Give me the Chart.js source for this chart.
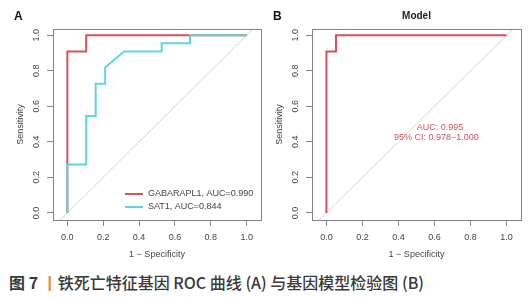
<!DOCTYPE html>
<html>
<head>
<meta charset="utf-8">
<script src="https://cdn.jsdelivr.net/npm/chart.js@4.4.0/dist/chart.umd.min.js"></script>
<style>
  html, body { margin: 0; padding: 0; background: #fff; }
  body { width: 532px; height: 300px; position: relative; overflow: hidden; }
  .panel { position: absolute; top: 0; width: 266px; height: 262px; }
  #panelA { left: 0; }
  #panelB { left: 259px; }
  .caption {
    position: absolute; left: 9px; top: 270px;
    font-family: "Noto Sans CJK SC", sans-serif; font-size: 16px; line-height: 24px;
    font-weight: 500; color: #3a3a3a; white-space: nowrap;
  }
  .caption .b { font-weight: bold; }
  .caption .sep { color: #e0883a; font-weight: bold; }
</style>
</head>
<body>
<div class="panel" id="panelA"><canvas id="chartA"></canvas></div>
<div class="panel" id="panelB"><canvas id="chartB"></canvas></div>
<div class="caption"><span class="b">图 7</span> <span class="sep">丨</span>铁死亡特征基因 ROC 曲线 (A) 与基因模型检验图 (B)</div>

<script>
// ---------------- datos ----------------
const xTicks = [0, 0.2, 0.4, 0.6, 0.8, 1.0];
const yTicks = [0, 0.2, 0.4, 0.6, 0.8, 1.0];

// panel A: GABARAPL1
const gabaFpr = [0, 0, 0.105, 0.105, 1];
const gabaTpr = [0, 0.909, 0.909, 1, 1];
// panel A: SAT1
const sat1Fpr = [0, 0, 0.105, 0.105, 0.158, 0.158, 0.211, 0.211, 0.316, 0.526, 0.526, 0.684, 0.684, 1];
const sat1Tpr = [0, 0.273, 0.273, 0.545, 0.545, 0.727, 0.727, 0.818, 0.909, 0.909, 0.955, 0.955, 1, 1];
// panel B: modelo
const modelFpr = [0, 0, 0.053, 0.053, 1];
const modelTpr = [0, 0.909, 0.909, 1, 1];
// diagonal de referencia
const diagonal = [-0.2, 1.2];

const seriesNames = ["GABARAPL1, AUC=0.990", "SAT1, AUC=0.844"];
const modelTitle = "Model";
const modelAucText = ["AUC: 0.995", "95% CI: 0.978\u22121.000"];

const ROJO = "#d4525a";
const CIAN = "#5cd6dc";
const GRIS = "#858585";
const TEXTO = "#444";
const FAMILIA = "'Liberation Sans', Arial, sans-serif";

const puntos = (xs, ys) => xs.map((x, i) => ({ x: x, y: ys[i] }));

// ---------------- plugins de dibujo (estilo R) ----------------
const marcoR = {
    id: "marcoR",
    afterDraw(chart, args, opts) {
        const { ctx, chartArea: a, scales } = chart;
        ctx.save();
        // caja
        ctx.strokeStyle = GRIS;
        ctx.lineWidth = 1;
        ctx.strokeRect(Math.round(a.left) + 0.5, Math.round(a.top) + 0.5,
            Math.round(a.right - a.left), Math.round(a.bottom - a.top));
        // etiquetas del eje y giradas
        ctx.fillStyle = TEXTO;
        ctx.font = "9px " + FAMILIA;
        ctx.textAlign = "center";
        ctx.textBaseline = "middle";
        yTicks.forEach(v => {
            const py = scales.y.getPixelForValue(v);
            ctx.save();
            ctx.translate(a.left - 16, py);
            ctx.rotate(-Math.PI / 2);
            ctx.fillText(v.toFixed(1), 0, 0);
            ctx.restore();
        });
        // letra del panel
        ctx.fillStyle = "#111";
        ctx.font = "bold 12px " + FAMILIA;
        ctx.textAlign = "left";
        ctx.fillText(opts.letra, 14, 17);
        // titulo
        if (opts.titulo) {
            ctx.font = "bold 10px " + FAMILIA;
            ctx.textAlign = "center";
            ctx.fillStyle = "#222";
            ctx.fillText(opts.titulo, (a.left + a.right) / 2, 16);
        }
        // leyenda
        if (opts.leyenda) {
            ctx.font = "9px " + FAMILIA;
            ctx.textAlign = "left";
            opts.leyenda.forEach((item, i) => {
                const ly = a.bottom - 26 + i * 13;
                ctx.strokeStyle = item.color;
                ctx.lineWidth = 2;
                ctx.beginPath();
                ctx.moveTo(a.right - 136, ly);
                ctx.lineTo(a.right - 118, ly);
                ctx.stroke();
                ctx.fillStyle = TEXTO;
                ctx.fillText(item.texto, a.right - 113, ly);
            });
        }
        // texto AUC
        if (opts.auc) {
            ctx.font = "9px " + FAMILIA;
            ctx.textAlign = "center";
            ctx.fillStyle = ROJO;
            ctx.fillText(opts.auc[0], scales.x.getPixelForValue(0.63), scales.y.getPixelForValue(0.48));
            ctx.fillText(opts.auc[1], scales.x.getPixelForValue(0.61), scales.y.getPixelForValue(0.425));
        }
        ctx.restore();
    }
};

function CrearOpciones(padRight, extra) {
    return {
        responsive: true,
        maintainAspectRatio: false,
        animation: false,
        events: [],
        layout: { padding: { top: 29, right: padRight, bottom: 0, left: 0 } },
        plugins: {
            legend: { display: false },
            tooltip: { enabled: false },
            marcoR: extra
        },
        scales: {
            x: {
                type: "linear", min: -0.08, max: 1.08,
                afterBuildTicks: s => { s.ticks = xTicks.map(v => ({ value: v })); },
                afterFit: s => { s.height = 42; },
                grid: { drawOnChartArea: false, tickLength: 6, color: GRIS, lineWidth: 1 },
                border: { display: false },
                ticks: {
                    font: { size: 9, family: FAMILIA }, color: TEXTO, padding: 6,
                    maxRotation: 0, callback: v => Number(v).toFixed(1)
                },
                title: {
                    display: true, text: "1 \u2212 Specificity", color: TEXTO,
                    font: { size: 9, family: FAMILIA }, padding: { top: 0, bottom: 2 }
                }
            },
            y: {
                type: "linear", min: -0.04, max: 1.035,
                afterBuildTicks: s => { s.ticks = yTicks.map(v => ({ value: v })); },
                afterFit: s => { s.width = 53; },
                grid: { drawOnChartArea: false, tickLength: 6, color: GRIS, lineWidth: 1 },
                border: { display: false },
                ticks: { display: false },
                title: {
                    display: true, text: "Sensitivity", color: TEXTO,
                    font: { size: 9, family: FAMILIA }, padding: { top: 15, bottom: 0 }
                }
            }
        }
    };
}

const lineaDiagonal = {
    label: "ref",
    data: puntos(diagonal, diagonal),
    borderColor: "#d4d4d4", borderWidth: 1, pointRadius: 0, order: 3
};

new Chart(document.getElementById("chartA"), {
    type: "line",
    data: {
        datasets: [
            {
                label: seriesNames[0], data: puntos(gabaFpr, gabaTpr),
                borderColor: ROJO, borderWidth: 2, pointRadius: 0, tension: 0, order: 2
            },
            {
                label: seriesNames[1], data: puntos(sat1Fpr, sat1Tpr),
                borderColor: CIAN, borderWidth: 2, pointRadius: 0, tension: 0, order: 1
            },
            lineaDiagonal
        ]
    },
    options: CrearOpciones(5, {
        letra: "A",
        leyenda: [
            { texto: seriesNames[0], color: ROJO },
            { texto: seriesNames[1], color: CIAN }
        ]
    }),
    plugins: [marcoR]
});

new Chart(document.getElementById("chartB"), {
    type: "line",
    data: {
        datasets: [
            {
                label: modelTitle, data: puntos(modelFpr, modelTpr),
                borderColor: ROJO, borderWidth: 2, pointRadius: 0, tension: 0, order: 1
            },
            Object.assign({}, lineaDiagonal)
        ]
    },
    options: CrearOpciones(4, { letra: "B", titulo: modelTitle, auc: modelAucText }),
    plugins: [marcoR]
});
</script>
</body>
</html>
